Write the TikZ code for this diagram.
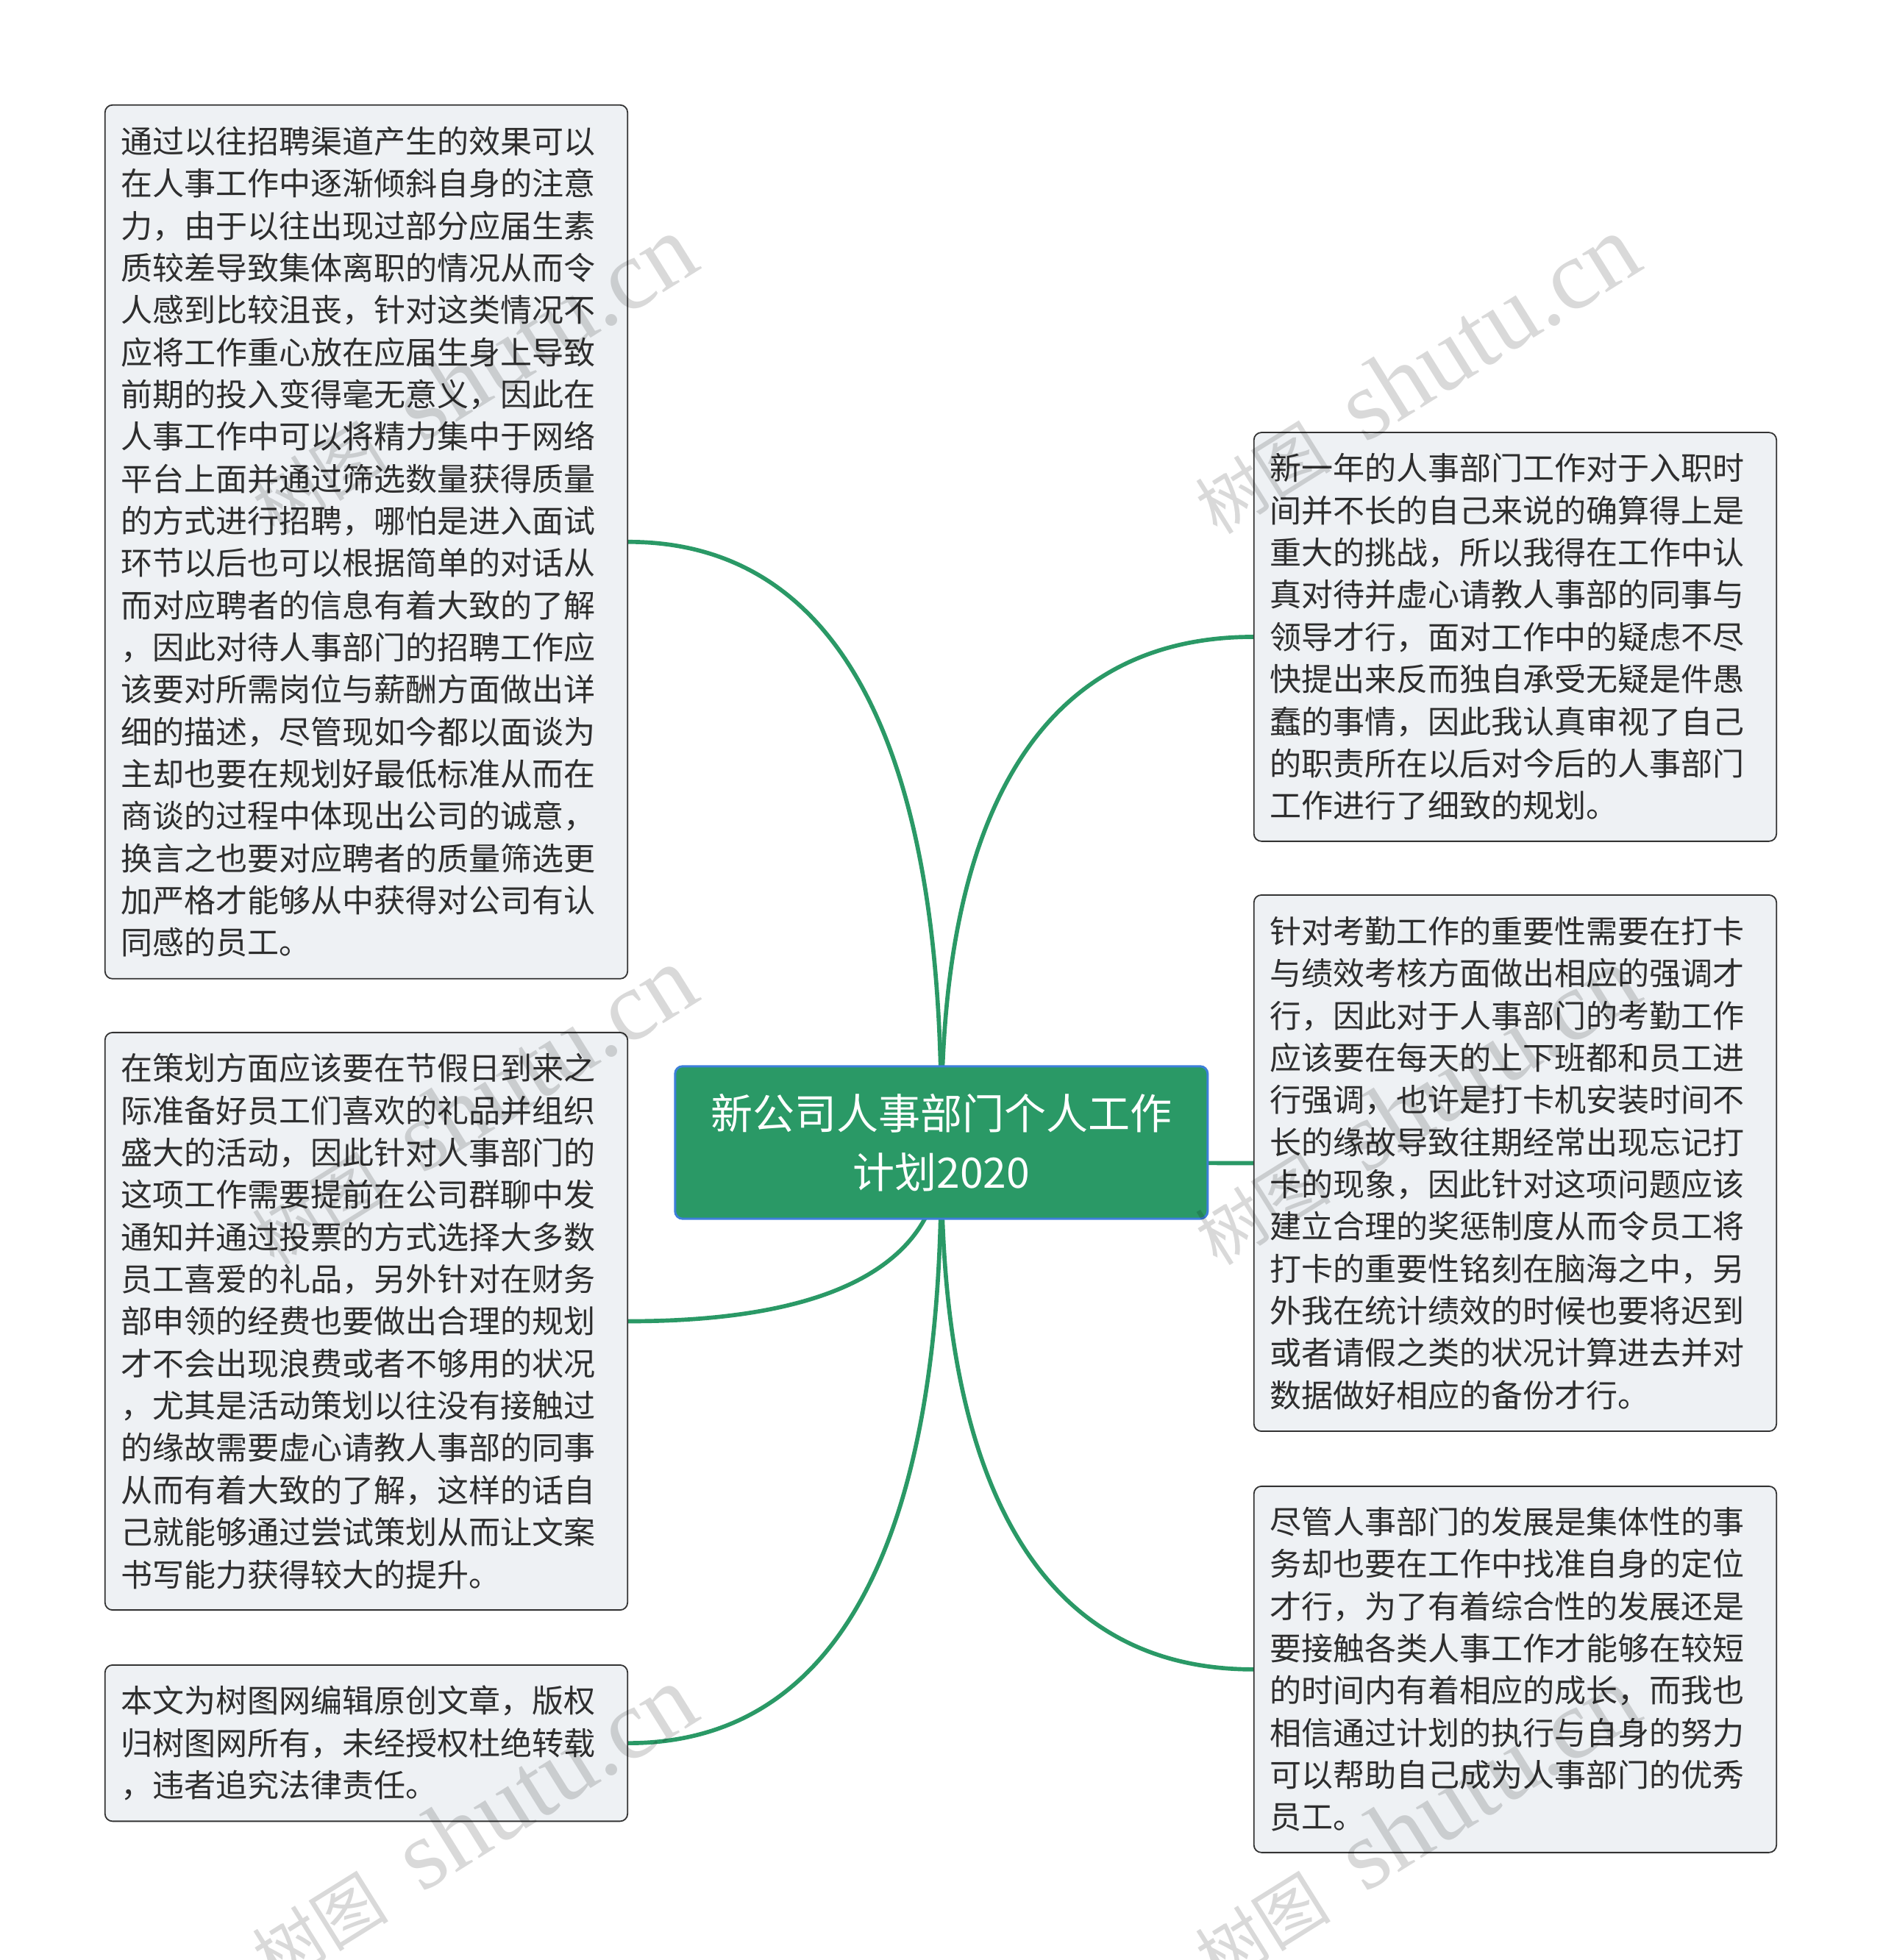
\documentclass[tikz,border=0pt]{standalone}
\usepackage{fontspec}
\setmainfont{Noto Sans CJK SC}
\newfontfamily\wmlatin{Liberation Serif}
\usetikzlibrary{calc,backgrounds}
\definecolor{hubgreen}{HTML}{2A9966}
\definecolor{hubblue}{HTML}{3D7FD9}
\definecolor{leaffill}{HTML}{EEF1F4}
\definecolor{leafline}{HTML}{333333}
\definecolor{inkgray}{HTML}{2E2E2E}
\tikzset{
  hubbox/.style={draw=hubblue,line width=1pt,fill=hubgreen,rounded corners=.12cm,text=white,align=center,minimum width=8.52cm,minimum height=2.44cm,inner sep=0pt,font=\fontsize{19.1pt}{26.7pt}\selectfont},
  leafbox/.style={draw=leafline,line width=.6pt,fill=leaffill,rounded corners=.12cm,text=inkgray,align=left,text width=7.84cm,inner xsep=.26cm,inner ysep=0pt,font=\fontsize{14.4pt}{19.2pt}\selectfont},
  branch/.style={draw=hubgreen,line width=1.9pt},
  wmark/.style={rotate=32,text=black,opacity=.15,inner sep=0pt}
}

\begin{document}
\begin{tikzpicture}[x=.2mm,y=-.2mm]
  \useasboundingbox (0,0) rectangle (1506,1568);

  % central topic
  \node[hubbox] (root) at (753,914) {新公司人事部门个人工作\\计划2020};

  % left column
  \node[leafbox,minimum height=13.98cm] (recruit) at (293,433.5) {通过以往招聘渠道产生的效果可以\\
在人事工作中逐渐倾斜自身的注意\\
力，由于以往出现过部分应届生素\\
质较差导致集体离职的情况从而令\\
人感到比较沮丧，针对这类情况不\\
应将工作重心放在应届生身上导致\\
前期的投入变得毫无意义，因此在\\
人事工作中可以将精力集中于网络\\
平台上面并通过筛选数量获得质量\\
的方式进行招聘，哪怕是进入面试\\
环节以后也可以根据简单的对话从\\
而对应聘者的信息有着大致的了解\\
，因此对待人事部门的招聘工作应\\
该要对所需岗位与薪酬方面做出详\\
细的描述，尽管现如今都以面谈为\\
主却也要在规划好最低标准从而在\\
商谈的过程中体现出公司的诚意，\\
换言之也要对应聘者的质量筛选更\\
加严格才能够从中获得对公司有认\\
同感的员工。};
  \node[leafbox,minimum height=9.24cm] (event) at (293,1057) {在策划方面应该要在节假日到来之\\
际准备好员工们喜欢的礼品并组织\\
盛大的活动，因此针对人事部门的\\
这项工作需要提前在公司群聊中发\\
通知并通过投票的方式选择大多数\\
员工喜爱的礼品，另外针对在财务\\
部申领的经费也要做出合理的规划\\
才不会出现浪费或者不够用的状况\\
，尤其是活动策划以往没有接触过\\
的缘故需要虚心请教人事部的同事\\
从而有着大致的了解，这样的话自\\
己就能够通过尝试策划从而让文案\\
书写能力获得较大的提升。};
  \node[leafbox,minimum height=2.5cm] (notice) at (293,1394.5) {本文为树图网编辑原创文章，版权\\
归树图网所有，未经授权杜绝转载\\
，违者追究法律责任。};

  % right column
  \node[leafbox,minimum height=6.54cm] (review) at (1212,509.5) {新一年的人事部门工作对于入职时\\
间并不长的自己来说的确算得上是\\
重大的挑战，所以我得在工作中认\\
真对待并虚心请教人事部的同事与\\
领导才行，面对工作中的疑虑不尽\\
快提出来反而独自承受无疑是件愚\\
蠢的事情，因此我认真审视了自己\\
的职责所在以后对今后的人事部门\\
工作进行了细致的规划。};
  \node[leafbox,minimum height=8.58cm] (attend) at (1212,930.5) {针对考勤工作的重要性需要在打卡\\
与绩效考核方面做出相应的强调才\\
行，因此对于人事部门的考勤工作\\
应该要在每天的上下班都和员工进\\
行强调，也许是打卡机安装时间不\\
长的缘故导致往期经常出现忘记打\\
卡的现象，因此针对这项问题应该\\
建立合理的奖惩制度从而令员工将\\
打卡的重要性铭刻在脑海之中，另\\
外我在统计绩效的时候也要将迟到\\
或者请假之类的状况计算进去并对\\
数据做好相应的备份才行。};
  \node[leafbox,minimum height=5.86cm] (growth) at (1212,1335.5) {尽管人事部门的发展是集体性的事\\
务却也要在工作中找准自身的定位\\
才行，为了有着综合性的发展还是\\
要接触各类人事工作才能够在较短\\
的时间内有着相应的成长，而我也\\
相信通过计划的执行与自身的努力\\
可以帮助自己成为人事部门的优秀\\
员工。};

  % branches behind the central topic
  \begin{scope}[on background layer]
    \fill[white] (0,0) rectangle (1506,1568);
    \foreach \leaf/\side in {recruit/east,event/east,notice/east,review/west,attend/west,growth/west}
      \draw[branch] (root.center) .. controls ($(root.center)!.25!(root.center |- \leaf.\side)$) and (root.center |- \leaf.\side) .. (\leaf.\side);
  \end{scope}

  % watermark
  \foreach \wx/\wy in {378/300,1132/300,378/885,1132/885,378/1460,1132/1460}
    \node[wmark,name=wm-\wx-\wy] at (\wx,\wy) {{\fontsize{31pt}{31pt}\selectfont 树图}\hspace{.6cm}{\wmlatin\fontsize{45pt}{45pt}\selectfont shutu.cn}};
\end{tikzpicture}
\end{document}
